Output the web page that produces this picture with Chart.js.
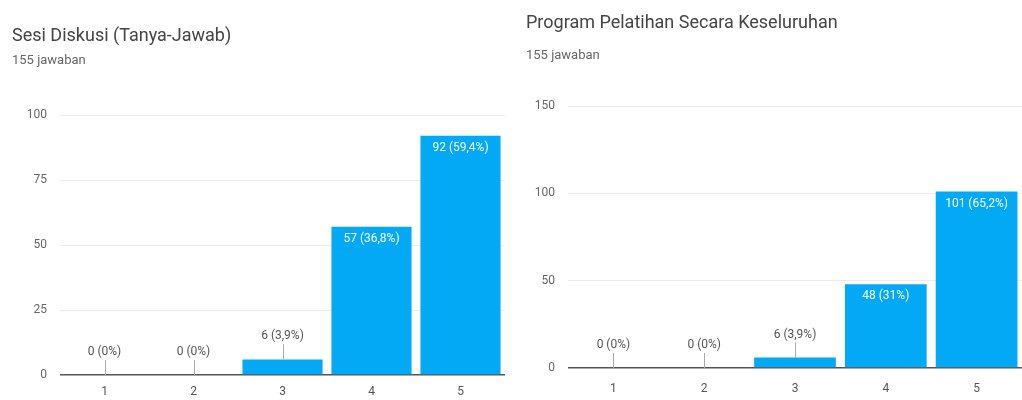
<!DOCTYPE html>
<html>
<head>
<meta charset="utf-8">
<script src="https://cdn.jsdelivr.net/npm/chart.js@4.4.0/dist/chart.umd.min.js"></script>
<style>
body { margin:0; background:#fff; font-family: Roboto, sans-serif; }
#wrap { position:relative; width:1022px; height:400px; overflow:hidden; }
.box { position:absolute; top:0; width:511px; height:400px; }
.box canvas { position:absolute; left:0; top:0; }
.title { position:absolute; font-size:18px; line-height:20px; color:#444; white-space:nowrap; z-index:2; }
.sub { position:absolute; font-size:13px; line-height:16px; color:#666; white-space:nowrap; z-index:2; }
</style>
</head>
<body>
<div id="wrap">
  <div class="box" style="left:0">
    <canvas id="grafikDiskusi" width="511" height="400"></canvas>
    <div class="title" style="left:12px; top:25px">Sesi Diskusi (Tanya-Jawab)</div>
    <div class="sub" style="left:12px; top:52px">155 jawaban</div>
  </div>
  <div class="box" style="left:511px">
    <canvas id="grafikProgram" width="511" height="400"></canvas>
    <div class="title" style="left:15px; top:12px">Program Pelatihan Secara Keseluruhan</div>
    <div class="sub" style="left:15px; top:47px">155 jawaban</div>
  </div>
</div>
<script>
var etiketSkala = ['1', '2', '3', '4', '5'];

var nilaiDiskusi = [0, 0, 6, 57, 92];
var persenDiskusi = ['0%', '0%', '3,9%', '36,8%', '59,4%'];
var ticksDiskusi = [0, 25, 50, 75, 100];

var nilaiProgram = [0, 0, 6, 48, 101];
var persenProgram = ['0%', '0%', '3,9%', '31%', '65,2%'];
var ticksProgram = [0, 50, 100, 150];

// label di atas / di dalam batang
var labelBatang = {
	id: 'labelBatang',
	afterDatasetsDraw: function(chart) {
		var ctx = chart.ctx;
		var ds = chart.data.datasets[0];
		var meta = chart.getDatasetMeta(0);
		ctx.save();
		ctx.font = '12px Roboto';
		ctx.textAlign = 'center';
		ctx.textBaseline = 'middle';
		meta.data.forEach(function(bar, i) {
			var teks = ds.data[i] + ' (' + ds.persen[i] + ')';
			if (bar.base - bar.y > 30) {
				ctx.fillStyle = '#fff';
				ctx.fillText(teks, bar.x, bar.y + 12);
			} else {
				ctx.strokeStyle = '#aaa';
				ctx.lineWidth = 1;
				ctx.beginPath();
				ctx.moveTo(Math.round(bar.x) + 0.5, bar.y);
				ctx.lineTo(Math.round(bar.x) + 0.5, bar.y - 15);
				ctx.stroke();
				ctx.fillStyle = '#555';
				ctx.fillText(teks, bar.x, bar.y - 23);
			}
		});
		ctx.restore();
	}
};

function buatGrafik(id, nilai, persen, ticks, pad, lebarY, tinggiX, padX) {
	var maks = ticks[ticks.length - 1];
	var langkah = ticks[1] - ticks[0];
	return new Chart(document.getElementById(id), {
		type: 'bar',
		data: {
			labels: etiketSkala,
			datasets: [{
				data: nilai,
				persen: persen,
				backgroundColor: '#03a9f4',
				barPercentage: 0.9,
				categoryPercentage: 1.0
			}]
		},
		options: {
			responsive: false,
			animation: false,
			layout: { padding: pad },
			plugins: { legend: { display: false }, tooltip: { enabled: false } },
			scales: {
				x: {
					grid: { display: false, drawTicks: false },
					border: { display: false },
					ticks: { color: '#555', font: { family: 'Roboto', size: 12 }, padding: padX },
					afterFit: function(s) { s.height = tinggiX; }
				},
				y: {
					min: 0,
					max: maks,
					afterBuildTicks: function(s) { s.ticks = ticks.map(function(v) { return { value: v }; }); },
					ticks: { stepSize: langkah, color: '#666', font: { family: 'Roboto', size: 12 }, padding: 13 },
					grid: {
						drawTicks: false,
						color: function(c) { return c.tick && c.tick.value === 0 ? '#555' : '#ececec'; },
						lineWidth: function(c) { return c.tick && c.tick.value === 0 ? 1.5 : 1; }
					},
					border: { display: false },
					afterFit: function(s) { s.width = lebarY; }
				}
			}
		},
		plugins: [labelBatang]
	});
}

buatGrafik('grafikDiskusi', nilaiDiskusi, persenDiskusi, ticksDiskusi,
	{ top: 115, left: 0, right: 6, bottom: 0 }, 60, 25, 10);
buatGrafik('grafikProgram', nilaiProgram, persenProgram, ticksProgram,
	{ top: 106, left: 0, right: 0, bottom: 0 }, 57, 32, 14);
</script>
</body>
</html>
